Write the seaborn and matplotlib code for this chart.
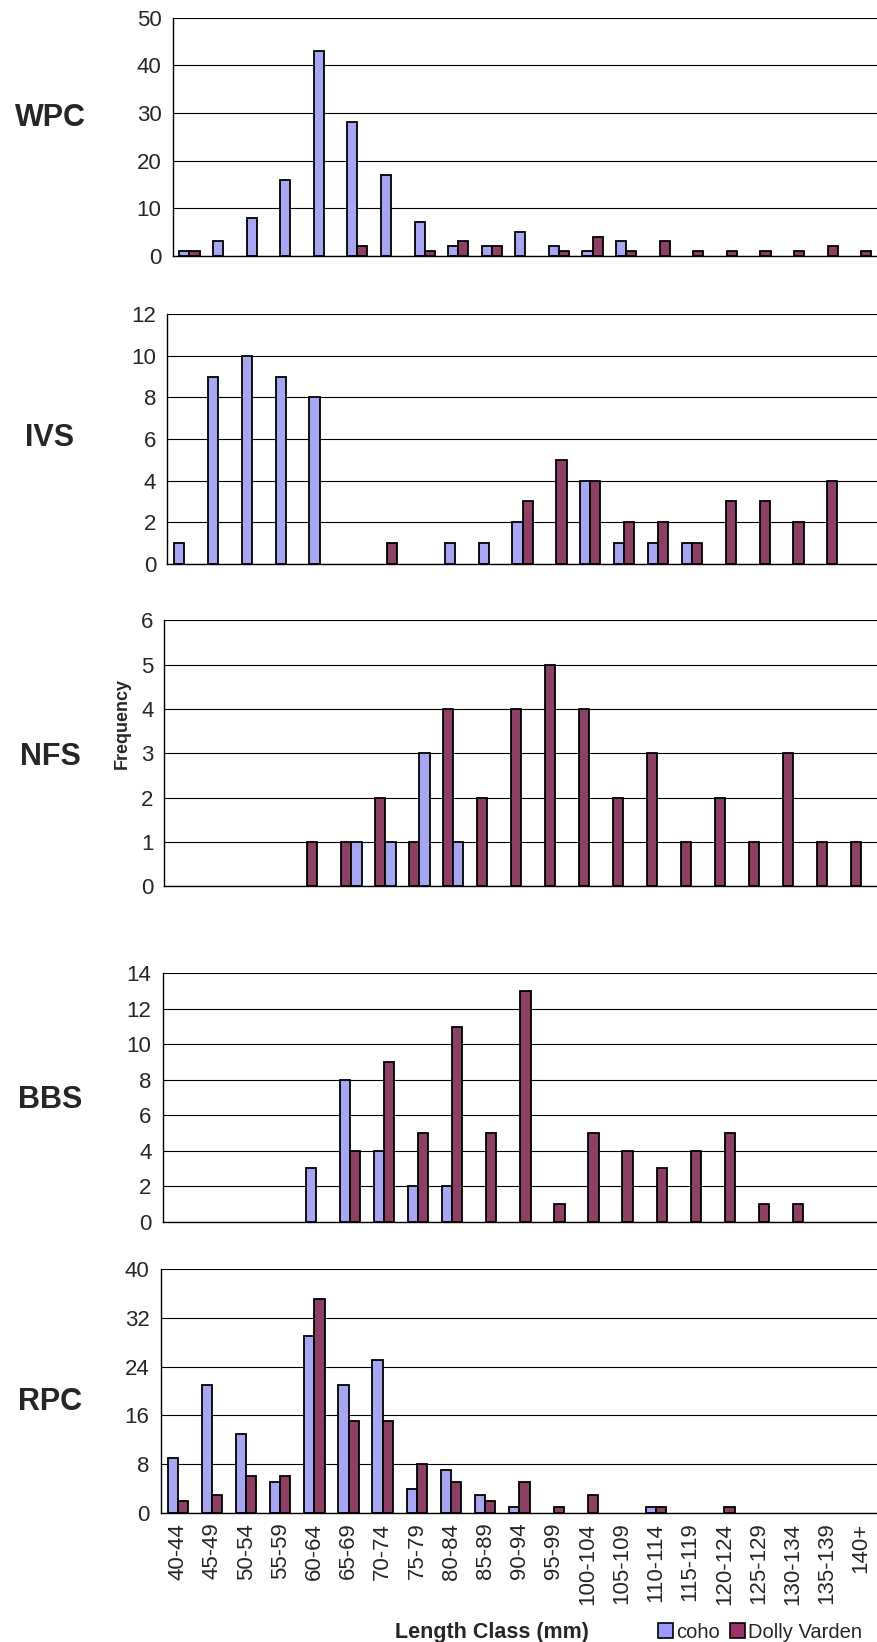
import numpy as np
import pandas as pd
import matplotlib
matplotlib.use("Agg")
import matplotlib.pyplot as plt
from matplotlib.patches import Patch
import seaborn as sns

# length classes (mm)
classes = ["40-44", "45-49", "50-54", "55-59", "60-64", "65-69", "70-74",
           "75-79", "80-84", "85-89", "90-94", "95-99", "100-104", "105-109",
           "110-114", "115-119", "120-124", "125-129", "130-134", "135-139", "140+"]

# frequencies per site
wpc_coho = [1, 3, 8, 16, 43, 28, 17, 7, 2, 2, 5, 2, 1, 3, 0, 0, 0, 0, 0, 0, 0]
wpc_dv = [1, 0, 0, 0, 0, 2, 0, 1, 3, 2, 0, 1, 4, 1, 3, 1, 1, 1, 1, 2, 1]

ivs_coho = [1, 9, 10, 9, 8, 0, 0, 0, 1, 1, 2, 0, 4, 1, 1, 1, 0, 0, 0, 0, 0]
ivs_dv = [0, 0, 0, 0, 0, 0, 1, 0, 0, 0, 3, 5, 4, 2, 2, 1, 3, 3, 2, 4, 0]

nfs_coho = [0, 0, 0, 0, 0, 1, 1, 3, 1, 0, 0, 0, 0, 0, 0, 0, 0, 0, 0, 0, 0]
nfs_dv = [0, 0, 0, 0, 1, 1, 2, 1, 4, 2, 4, 5, 4, 2, 3, 1, 2, 1, 3, 1, 1]

bbs_coho = [0, 0, 0, 0, 3, 8, 4, 2, 2, 0, 0, 0, 0, 0, 0, 0, 0, 0, 0, 0, 0]
bbs_dv = [0, 0, 0, 0, 0, 4, 9, 5, 11, 5, 13, 1, 5, 4, 3, 4, 5, 1, 1, 0, 0]

rpc_coho = [9, 21, 13, 5, 29, 21, 25, 4, 7, 3, 1, 0, 0, 0, 1, 0, 0, 0, 0, 0, 0]
rpc_dv = [2, 3, 6, 6, 35, 15, 15, 8, 5, 2, 5, 1, 3, 0, 1, 0, 1, 0, 0, 0, 0]

species = ["coho", "Dolly Varden"]
colors = {"coho": "#9999FF", "Dolly Varden": "#993366"}

sns.set_style("white")
plt.rcParams["font.family"] = ["Liberation Sans", "DejaVu Sans"]

W, H = 878, 1642
fig = plt.figure(figsize=(W / 100, H / 100), dpi=100)

# name, coho, dv, ymax, step, axis left px, group width px, top px, bottom px, label y px, hue order
panels = [
    ("WPC", wpc_coho, wpc_dv, 50, 10, 172.7, 33.8, 17.8, 255.7, 118, species),
    ("IVS", ivs_coho, ivs_dv, 12, 2, 167.3, 33.9, 314.3, 563.7, 438, species),
    ("NFS", nfs_coho, nfs_dv, 6, 1, 164.5, 34.25, 620.3, 886.4, 757, species[::-1]),
    ("BBS", bbs_coho, bbs_dv, 14, 2, 162.6, 34.45, 973.4, 1221.7, 1100, species),
    ("RPC", rpc_coho, rpc_dv, 40, 8, 160.7, 34.75, 1268.9, 1513.0, 1402, species),
]

for name, coho, dv, ymax, step, left, gw, top, bottom, label_y, order in panels:
    ax = fig.add_axes([left / W, 1 - bottom / H, 1 - left / W, (bottom - top) / H])
    df = pd.DataFrame({
        "cls": classes * 2,
        "species": ["coho"] * len(classes) + ["Dolly Varden"] * len(classes),
        "count": coho + dv,
    })
    sns.barplot(data=df, x="cls", y="count", hue="species", order=classes,
                hue_order=order, palette=colors, width=0.6, gap=0,
                edgecolor="black", linewidth=1.3, errorbar=None,
                legend=False, ax=ax)
    # empty classes show no bar at all
    for p in ax.patches:
        if p.get_height() == 0:
            p.set_visible(False)
    ax.set_xlim(-0.5, (W - left) / gw - 0.5)
    ax.set_ylim(0, ymax)
    ax.set_yticks(np.arange(0, ymax + step, step))
    ax.yaxis.grid(True, color="black", linewidth=0.8)
    ax.set_axisbelow(True)
    for s in ["top", "right"]:
        ax.spines[s].set_visible(False)
    for s in ["left", "bottom"]:
        ax.spines[s].set_color("black")
        ax.spines[s].set_linewidth(1.0)
    ax.set_xlabel("")
    ax.set_ylabel("")
    # boundary ticks between classes, labels at class centres
    ax.set_xticks(np.arange(-0.5, len(classes), 1))
    ax.set_xticklabels([])
    ax.set_xticks(np.arange(len(classes)), minor=True)
    if name == "RPC":
        ax.set_xticklabels(classes, minor=True, rotation=90, fontsize=16)
    ax.tick_params(axis="x", which="major", length=6, width=0.8, color="black", direction="out")
    ax.tick_params(axis="x", which="minor", length=0, pad=7)
    ax.tick_params(axis="y", length=5, width=0.8, color="black", direction="out",
                   labelsize=16, pad=3)
    fig.text(50 / W, 1 - label_y / H, name, fontsize=22, fontweight="bold",
             ha="center", va="center")

fig.text(122 / W, 1 - 723 / H, "Frequency", rotation=90, fontsize=13,
         fontweight="bold", ha="center", va="center")
fig.text(492 / W, 1 - 1632 / H, "Length Class (mm)", fontsize=15.5,
         fontweight="bold", ha="center", va="center")

handles = [Patch(facecolor=colors[s], edgecolor="black", linewidth=1.2) for s in species]
fig.legend(handles, species, loc="center", bbox_to_anchor=(760 / W, 1 - 1632 / H),
           ncol=2, frameon=False, fontsize=14.5, handlelength=0.75, handleheight=0.75,
           handletextpad=0.15, columnspacing=0.5, borderpad=0)

fig.savefig("out.png", dpi=100)
